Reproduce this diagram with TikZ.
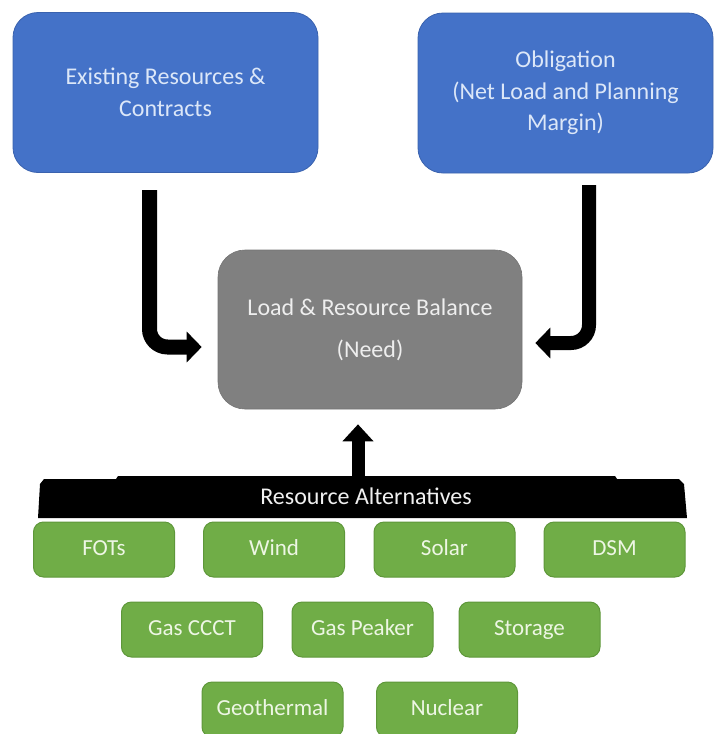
\documentclass[tikz,border=0pt]{standalone}
\usepackage{fontspec}
\setmainfont{Carlito}
\usetikzlibrary{arrows.meta}
\definecolor{boxblue}{HTML}{4472C8}
\definecolor{blueedge}{HTML}{3A62AE}
\definecolor{bluetext}{HTML}{DCE7F8}
\definecolor{boxgray}{HTML}{808080}
\definecolor{graytext}{HTML}{EEEEEE}
\definecolor{boxgreen}{HTML}{70AD47}
\definecolor{greenedge}{HTML}{5E973A}
\definecolor{greentext}{HTML}{EDF6E4}
\tikzset{
  bluebox/.style={draw=blueedge, line width=0.8pt, fill=boxblue, rounded corners=25pt,
    minimum height=160pt, inner sep=0pt, text=bluetext, align=center,
    font=\fontsize{24}{31.5}\selectfont},
  graybox/.style={draw=boxgray!90!black, line width=0.6pt, fill=boxgray, rounded corners=27pt,
    minimum width=304pt, minimum height=159pt, inner sep=0pt, text=graytext, align=center,
    font=\fontsize{24}{42}\selectfont},
  greenbox/.style={draw=greenedge, line width=1pt, fill=boxgreen, rounded corners=10pt,
    minimum width=141pt, minimum height=55pt, inner sep=0pt, text=greentext,
    text height=16pt, text depth=5pt,
    font=\fontsize{23}{26}\selectfont},
  bigarrow/.style={draw=black, line width=15pt, rounded corners=18pt,
    -{Triangle[length=15pt,width=30pt]}},
}
\begin{document}
\begin{tikzpicture}[x=1pt,y=-1pt]
\useasboundingbox (0,0) rectangle (715,734);
\clip (0,0) rectangle (715,734);

% top boxes
\node[bluebox, minimum width=305pt] (ex) at (165.5,92.5) {Existing Resources \&\\Contracts};
\node[bluebox, minimum width=295pt] (ob) at (565.5,93) {Obligation\\(Net Load and Planning\\Margin)};

% balance
\node[graybox] (bal) at (370,329.5) {Load \& Resource Balance\\(Need)};

% bar
\path[fill=black] (38,518) -- (40,484) -- (44,479) -- (116,479) -- (118,476) -- (615,476)
  -- (617,479) -- (679,479) -- (684,484) -- (687,518) -- cycle;
\node[text=white!94!black, font=\fontsize{24}{26}\selectfont, inner sep=0pt] (alt) at (366,496) {Resource Alternatives};

% arrows
\coordinate (la) at (149.5,190);
\draw[bigarrow, shorten >=16pt] (la) |- ([yshift=-17.5pt]bal.west);
\coordinate (ra) at (589,185);
\draw[bigarrow, line width=14pt, shorten >=13pt] (ra) |- ([yshift=-13.5pt]bal.east);
\coordinate (ba) at (358,476);
\draw[draw=black, line width=13pt, -{Triangle[length=17pt,width=30pt]}, shorten >=15pt] (ba) -- (ba |- bal.south);

% alternatives
\node[greenbox] (fots) at (104,549.5) {FOTs};
\node[greenbox] (wind) at (274,549.5) {Wind};
\node[greenbox] (solar) at (444.5,549.5) {Solar};
\node[greenbox] (dsm) at (614.5,549.5) {DSM};
\node[greenbox] (ccct) at (192,629.5) {Gas CCCT};
\node[greenbox] (peaker) at (362.5,629.5) {Gas Peaker};
\node[greenbox] (storage) at (529.5,629.5) {Storage};
\node[greenbox] (geo) at (272.5,709.5) {Geothermal};
\node[greenbox] (nuc) at (447,709.5) {Nuclear};
\end{tikzpicture}
\end{document}
